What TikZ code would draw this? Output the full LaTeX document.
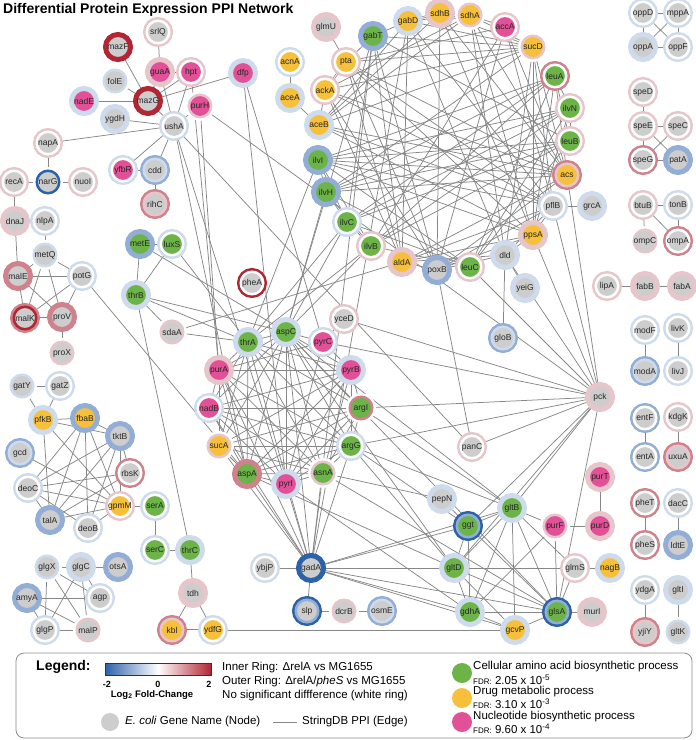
\documentclass[tikz,border=0pt]{standalone}
\usepackage{fontspec}
\setmainfont{Liberation Sans}
\usepackage{tikz}
\usetikzlibrary{backgrounds}

\definecolor{rD}{RGB}{178,38,52}
\definecolor{rM}{RGB}{208,130,140}
\definecolor{rL}{RGB}{231,198,203}
\definecolor{bL}{RGB}{206,219,236}
\definecolor{bM}{RGB}{146,174,214}
\definecolor{bD}{RGB}{44,98,168}
\definecolor{W}{RGB}{255,255,255}
\definecolor{cG}{RGB}{205,205,205}
\definecolor{cGr}{RGB}{108,180,72}
\definecolor{cO}{RGB}{247,192,58}
\definecolor{cM}{RGB}{226,80,152}
\definecolor{ppigray}{RGB}{135,135,135}

\begin{document}
\begin{tikzpicture}[x=1pt, y=-1pt,
    gene/.style n args={3}{circle, inner sep=-8pt, minimum size=22.5pt, fill=#3, draw=#2, line width=2.5pt,
        preaction={draw=#1, line width=7.5pt}, text=black!85, font=\fontsize{8.5}{9}\selectfont},
    ppi/.style={draw=ppigray, line width=0.75pt},
    keytext/.style={anchor=west, inner sep=0pt, font=\fontsize{11.5}{12}\selectfont}]

    \useasboundingbox (0,0) rectangle (696,740);

    \node[anchor=west, inner sep=0pt, font=\bfseries\fontsize{14}{15}\selectfont] (title) at (3,10) {Differential Protein Expression PPI Network};

    % left top
    \node[gene={rL}{W}{cG}] (srlQ) at (158,32) {srlQ};
    \node[gene={rD}{rD}{cG}] (mazF) at (118,47) {mazF};
    \node[gene={rL}{rL}{cM}] (guaA) at (160,72) {guaA};
    \node[gene={rL}{W}{cM}] (hpt) at (191,72) {hpt};
    \node[gene={W}{bL}{cG}] (folE) at (115,81) {folE};
    \node[gene={bL}{bL}{cM}] (nadE) at (84,101) {nadE};
    \node[gene={rD}{rD}{cG}] (mazG) at (148,101) {mazG};
    \node[gene={W}{rL}{cM}] (purH) at (200,106) {purH};
    \node[gene={bL}{bL}{cG}] (ygdH) at (115,119) {ygdH};
    \node[gene={bL}{W}{cG}] (ushA) at (174,126) {ushA};
    \node[gene={bL}{bL}{cM}] (dfp) at (243,73) {dfp};
    \node[gene={rL}{W}{cG}] (napA) at (48,143) {napA};
    \node[gene={rL}{W}{cG}] (recA) at (14,182) {recA};
    \node[gene={W}{bD}{cG}] (narG) at (48,182) {narG};
    \node[gene={rL}{W}{cG}] (nuoI) at (83,182) {nuoI};
    \node[gene={bL}{W}{cM}] (yfbR) at (123,170) {yfbR};
    \node[gene={bM}{bL}{cG}] (cdd) at (155,170) {cdd};
    \node[gene={rM}{rL}{cG}] (rihC) at (155,204) {rihC};

    \node[gene={rL}{rL}{cG}] (dnaJ) at (15,221) {dnaJ};
    \node[gene={bL}{W}{cG}] (nlpA) at (45,221) {nlpA};
    \node[gene={W}{bL}{cG}] (metQ) at (45,255) {metQ};
    \node[gene={rM}{rM}{cG}] (malE) at (18,276) {malE};
    \node[gene={bL}{W}{cG}] (potG) at (82,276) {potG};
    \node[gene={rM}{rD}{cG}] (malK) at (25,318) {malK};
    \node[gene={rM}{rM}{cG}] (proV) at (62,317) {proV};
    \node[gene={W}{rL}{cG}] (proX) at (62,353) {proX};

    \node[gene={W}{bL}{cG}] (gatY) at (22,386) {gatY};
    \node[gene={bL}{W}{cG}] (gatZ) at (60,386) {gatZ};
    \node[gene={bL}{bL}{cO}] (pfkB) at (43,420) {pfkB};
    \node[gene={bM}{bM}{cO}] (fbaB) at (85,418) {fbaB};
    \node[gene={bM}{bM}{cG}] (tktB) at (120,436) {tktB};
    \node[gene={bM}{bL}{cG}] (gcd) at (20,453) {gcd};
    \node[gene={rM}{W}{cG}] (rbsK) at (130,473) {rbsK};
    \node[gene={bL}{W}{cG}] (deoC) at (28,488) {deoC};
    \node[gene={rL}{W}{cO}] (gpmM) at (120,506) {gpmM};
    \node[gene={bL}{W}{cGr}] (serA) at (155,506) {serA};
    \node[gene={bM}{bM}{cG}] (talA) at (50,520) {talA};
    \node[gene={bL}{W}{cG}] (deoB) at (88,528) {deoB};
    \node[gene={bL}{W}{cGr}] (serC) at (155,550) {serC};
    \node[gene={bL}{bL}{cGr}] (thrC) at (190,550) {thrC};
    \node[gene={W}{bL}{cG}] (glgX) at (47,567) {glgX};
    \node[gene={bL}{bL}{cG}] (glgC) at (81,567) {glgC};
    \node[gene={bM}{bM}{cG}] (otsA) at (118,567) {otsA};
    \node[gene={bM}{bM}{cG}] (amyA) at (27,598) {amyA};
    \node[gene={bL}{W}{cG}] (agp) at (100,598) {agp};
    \node[gene={bL}{W}{cG}] (glgP) at (45,630) {glgP};
    \node[gene={W}{rL}{cG}] (malP) at (88,630) {malP};
    \node[gene={rL}{rL}{cG}] (tdh) at (193,593) {tdh};
    \node[gene={rM}{rL}{cO}] (kbl) at (172,630) {kbl};
    \node[gene={bL}{W}{cO}] (ydfG) at (213,630) {ydfG};

    \node[gene={bM}{bM}{cGr}] (metE) at (140,244) {metE};
    \node[gene={bL}{W}{cGr}] (luxS) at (172,244) {luxS};
    \node[gene={bL}{bL}{cGr}] (thrB) at (136,295) {thrB};
    \node[gene={W}{rL}{cG}] (sdaA) at (172,332) {sdaA};
    \node[gene={rD}{W}{cG}] (pheA) at (252,283) {pheA};

    % ring of twelve
    \node[gene={bL}{bL}{cGr}] (aspC) at (286,332) {aspC};
    \node[gene={bL}{W}{cM}] (pyrC) at (323,342) {pyrC};
    \node[gene={bL}{bL}{cM}] (pyrB) at (351,370) {pyrB};
    \node[gene={W}{rM}{cGr}] (argI) at (361,408) {argI};
    \node[gene={bL}{W}{cGr}] (argG) at (351,446) {argG};
    \node[gene={W}{rL}{cGr}] (asnA) at (323,473) {asnA};
    \node[gene={bL}{bL}{cM}] (pyrI) at (286,484) {pyrI};
    \node[gene={rM}{rM}{cGr}] (aspA) at (247,474) {aspA};
    \node[gene={W}{rL}{cO}] (sucA) at (219,446) {sucA};
    \node[gene={bL}{W}{cM}] (nadB) at (209,408) {nadB};
    \node[gene={rL}{rL}{cM}] (purA) at (219,370) {purA};
    \node[gene={bL}{bL}{cGr}] (thrA) at (248,342) {thrA};
    \node[gene={rL}{W}{cG}] (yceD) at (344,319) {yceD};
    \node[gene={rL}{W}{cG}] (panC) at (472,447) {panC};
    \node[gene={bL}{bL}{cG}] (pepN) at (442,499) {pepN};

    % big ring
    \node[gene={rL}{rL}{cG}] (glmU) at (326,27) {glmU};
    \node[gene={bL}{W}{cO}] (acnA) at (290,62) {acnA};
    \node[gene={bL}{bL}{cO}] (aceA) at (290,98) {aceA};
    \node[gene={rL}{W}{cO}] (pta) at (346,62) {pta};
    \node[gene={bM}{bM}{cGr}] (gabT) at (373,36) {gabT};
    \node[gene={bL}{bL}{cO}] (gabD) at (408,21) {gabD};
    \node[gene={rL}{rL}{cO}] (sdhB) at (440,13) {sdhB};
    \node[gene={W}{rL}{cO}] (sdhA) at (470,15) {sdhA};
    \node[gene={rL}{W}{cM}] (accA) at (505,27) {accA};
    \node[gene={W}{rL}{cO}] (sucD) at (533,47) {sucD};
    \node[gene={rM}{W}{cGr}] (leuA) at (555,76) {leuA};
    \node[gene={rL}{W}{cGr}] (ilvN) at (570,108) {ilvN};
    \node[gene={rL}{W}{cGr}] (leuB) at (570,141) {leuB};
    \node[gene={rM}{rL}{cO}] (acs) at (567,175) {acs};
    \node[gene={bL}{W}{cG}] (pflB) at (553,206) {pflB};
    \node[gene={rL}{rL}{cO}] (ppsA) at (533,235) {ppsA};
    \node[gene={bL}{bL}{cG}] (dld) at (505,255) {dld};
    \node[gene={rL}{W}{cGr}] (leuC) at (470,267) {leuC};
    \node[gene={bM}{bM}{cG}] (poxB) at (437,270) {poxB};
    \node[gene={rL}{rL}{cO}] (aldA) at (402,262) {aldA};
    \node[gene={rL}{W}{cGr}] (ilvB) at (371,246) {ilvB};
    \node[gene={bL}{W}{cGr}] (ilvC) at (347,222) {ilvC};
    \node[gene={bM}{bM}{cGr}] (ilvH) at (326,192) {ilvH};
    \node[gene={bM}{bM}{cGr}] (ilvI) at (318,160) {ilvI};
    \node[gene={bL}{bL}{cO}] (aceB) at (319,125) {aceB};
    \node[gene={rL}{W}{cO}] (ackA) at (325,90) {ackA};
    \node[gene={bL}{bL}{cG}] (grcA) at (592,206) {grcA};
    \node[gene={bL}{bL}{cG}] (yeiG) at (525,288) {yeiG};
    \node[gene={bM}{bL}{cG}] (gloB) at (503,338) {gloB};
    \node[gene={rL}{rL}{cG}] (pck) at (600,397) {pck};

    % right column
    \node[gene={bL}{W}{cG}] (oppD) at (643,13) {oppD};
    \node[gene={bL}{W}{cG}] (mppA) at (678,13) {mppA};
    \node[gene={bL}{bL}{cG}] (oppA) at (643,47) {oppA};
    \node[gene={bL}{W}{cG}] (oppF) at (678,47) {oppF};
    \node[gene={rL}{W}{cG}] (speD) at (643,92) {speD};
    \node[gene={rL}{W}{cG}] (speE) at (643,126) {speE};
    \node[gene={rL}{W}{cG}] (speC) at (678,126) {speC};
    \node[gene={rM}{W}{cG}] (speG) at (643,160) {speG};
    \node[gene={bM}{bM}{cG}] (patA) at (678,160) {patA};
    \node[gene={rL}{W}{cG}] (btuB) at (643,205) {btuB};
    \node[gene={bL}{W}{cG}] (tonB) at (678,205) {tonB};
    \node[gene={W}{rL}{cG}] (ompC) at (645,241) {ompC};
    \node[gene={rM}{W}{cG}] (ompA) at (678,241) {ompA};
    \node[gene={rL}{W}{cG}] (lipA) at (607,286) {lipA};
    \node[gene={rL}{rL}{cG}] (fabB) at (645,286) {fabB};
    \node[gene={rL}{rL}{cG}] (fabA) at (682,286) {fabA};
    \node[gene={bL}{W}{cG}] (modF) at (645,330) {modF};
    \node[gene={bL}{W}{cG}] (livK) at (678,328) {livK};
    \node[gene={bM}{bL}{cG}] (modA) at (645,371) {modA};
    \node[gene={bL}{W}{cG}] (livJ) at (678,371) {livJ};
    \node[gene={bM}{W}{cG}] (entF) at (645,418) {entF};
    \node[gene={rL}{W}{cG}] (kdgK) at (678,417) {kdgK};
    \node[gene={bM}{W}{cG}] (entA) at (645,457) {entA};
    \node[gene={rM}{rL}{cG}] (uxuA) at (678,457) {uxuA};
    \node[gene={rM}{W}{cG}] (pheT) at (645,503) {pheT};
    \node[gene={bL}{W}{cG}] (dacC) at (678,503) {dacC};
    \node[gene={rM}{W}{cG}] (pheS) at (645,545) {pheS};
    \node[gene={bM}{bM}{cG}] (ldtE) at (678,545) {ldtE};
    \node[gene={bL}{W}{cG}] (ydgA) at (645,590) {ydgA};
    \node[gene={bL}{bL}{cG}] (gltI) at (678,590) {gltI};
    \node[gene={rM}{rL}{cG}] (yjiY) at (645,632) {yjiY};
    \node[gene={W}{bL}{cG}] (gltK) at (678,632) {gltK};

    % bottom middle
    \node[gene={rL}{rL}{cM}] (purT) at (600,477) {purT};
    \node[gene={rL}{rL}{cM}] (purD) at (600,526) {purD};
    \node[gene={W}{rL}{cM}] (purF) at (555,526) {purF};
    \node[gene={bL}{bL}{cGr}] (gltB) at (512,508) {gltB};
    \node[gene={bD}{bM}{cGr}] (ggt) at (468,526) {ggt};
    \node[gene={rL}{W}{cG}] (glmS) at (575,568) {glmS};
    \node[gene={bL}{bL}{cO}] (nagB) at (610,568) {nagB};
    \node[gene={bL}{bL}{cGr}] (gltD) at (454,568) {gltD};
    \node[gene={bL}{bL}{cGr}] (gdhA) at (470,612) {gdhA};
    \node[gene={bD}{bM}{cGr}] (glsA) at (557,612) {glsA};
    \node[gene={rL}{rL}{cG}] (murI) at (592,612) {murI};
    \node[gene={bL}{bL}{cO}] (gcvP) at (515,630) {gcvP};
    \node[gene={bD}{bD}{cG}] (gadA) at (311,568) {gadA};
    \node[gene={bL}{W}{cG}] (ybjP) at (265,568) {ybjP};
    \node[gene={bD}{bM}{cG}] (slp) at (307,611) {slp};
    \node[gene={W}{rL}{cG}] (dcrB) at (344,611) {dcrB};
    \node[gene={bM}{bL}{cG}] (osmE) at (382,611) {osmE};

    \begin{scope}[on background layer]
    \draw[ppi] (srlQ) to (guaA);
    \draw[ppi] (mazF) to (mazG);
    \draw[ppi] (folE) to (mazG);
    \draw[ppi] (nadE) to (mazG);
    \draw[ppi] (guaA) to (hpt);
    \draw[ppi] (guaA) to (ushA);
    \draw[ppi] (guaA) to (mazG);
    \draw[ppi] (hpt) to (mazG);
    \draw[ppi] (hpt) to (ushA);
    \draw[ppi] (mazG) to (ushA);
    \draw[ppi] (mazG) to (dfp);
    \draw[ppi] (ygdH) to (ushA);
    \draw[ppi] (purH) to (ushA);
    \draw[ppi] (napA) to (ushA);
    \draw[ppi] (napA) to (narG);
    \draw[ppi] (recA) to (narG);
    \draw[ppi] (narG) to (nuoI);
    \draw[ppi] (recA) to (dnaJ);
    \draw[ppi] (yfbR) to (cdd);
    \draw[ppi] (yfbR) to (ushA);
    \draw[ppi] (cdd) to (ushA);
    \draw[ppi] (cdd) to (rihC);
    \draw[ppi] (ushA) to (panC);
    \draw[ppi] (ushA) to (pyrI);
    \draw[ppi] (ushA) to (aspA);
    \draw[ppi] (hpt) to (purA);
    \draw[ppi] (purH) to (purA);
    \draw[ppi] (dfp) to (pyrI);
    \draw[ppi] (dfp) to (pyrC);
    \draw[ppi] (purH) to (pck);

    \draw[ppi] (dnaJ) to (malE);
    \draw[ppi] (nlpA) to (metQ);
    \draw[ppi] (metQ) to (malE);
    \draw[ppi] (metQ) to (potG);
    \draw[ppi] (metQ) to (malK);
    \draw[ppi] (metQ) to (proV);
    \draw[ppi] (malE) to (potG);
    \draw[ppi] (malE) to (malK);
    \draw[ppi] (malE) to (proV);
    \draw[ppi] (malK) to (proV);
    \draw[ppi] (malK) to (potG);
    \draw[ppi] (proV) to (potG);
    \draw[ppi] (proV) to (proX);
    \draw[ppi] (potG) to (aspA);

    \draw[ppi] (metE) to (luxS);
    \draw[ppi] (metE) to (thrB);
    \draw[ppi] (luxS) to (thrB);
    \draw[ppi] (metE) to (aspC);
    \draw[ppi] (luxS) to (thrA);
    \draw[ppi] (thrB) to (aspC);
    \draw[ppi] (thrB) to (thrA);
    \draw[ppi] (thrB) to (thrC);
    \draw[ppi] (thrB) to (sdaA);
    \draw[ppi] (sdaA) to (thrA);
    \draw[ppi] (sdaA) to (aldA);

    \draw[ppi] (gatY) to (gatZ);
    \draw[ppi] (gatY) to (pfkB);
    \draw[ppi] (gatZ) to (pfkB);
    \draw[ppi] (pfkB) to (fbaB);
    \draw[ppi] (pfkB) to (tktB);
    \draw[ppi] (pfkB) to (talA);
    \draw[ppi] (pfkB) to (gpmM);
    \draw[ppi] (fbaB) to (tktB);
    \draw[ppi] (fbaB) to (talA);
    \draw[ppi] (fbaB) to (deoC);
    \draw[ppi] (fbaB) to (gpmM);
    \draw[ppi] (fbaB) to (deoB);
    \draw[ppi] (tktB) to (talA);
    \draw[ppi] (tktB) to (gpmM);
    \draw[ppi] (tktB) to (deoB);
    \draw[ppi] (tktB) to (rbsK);
    \draw[ppi] (tktB) to (deoC);
    \draw[ppi] (gcd) to (gpmM);
    \draw[ppi] (deoC) to (rbsK);
    \draw[ppi] (deoC) to (gpmM);
    \draw[ppi] (deoC) to (talA);
    \draw[ppi] (deoC) to (deoB);
    \draw[ppi] (talA) to (gpmM);
    \draw[ppi] (deoB) to (gpmM);
    \draw[ppi] (rbsK) to (talA);
    \draw[ppi] (gpmM) to (serA);
    \draw[ppi] (serA) to (serC);
    \draw[ppi] (serC) to (thrC);
    \draw[ppi] (thrC) to (tdh);
    \draw[ppi] (tdh) to (kbl);
    \draw[ppi] (tdh) to (ydfG);
    \draw[ppi, double distance=0.8pt] (kbl) to (ydfG);
    \draw[ppi] (ydfG) to (gcvP);

    \draw[ppi] (glgX) to (glgC);
    \draw[ppi] (glgC) to (otsA);
    \draw[ppi] (glgX) to (glgP);
    \draw[ppi] (glgX) to (malP);
    \draw[ppi] (glgX) to (agp);
    \draw[ppi] (glgC) to (agp);
    \draw[ppi] (glgC) to (glgP);
    \draw[ppi] (glgC) to (malP);
    \draw[ppi] (amyA) to (agp);
    \draw[ppi] (amyA) to (glgP);
    \draw[ppi] (amyA) to (malP);
    \draw[ppi] (glgP) to (malP);

    \draw[ppi] (oppD) to (mppA);
    \draw[ppi] (oppD) to (oppA);
    \draw[ppi] (oppD) to (oppF);
    \draw[ppi] (mppA) to (oppA);
    \draw[ppi] (mppA) to (oppF);
    \draw[ppi] (oppA) to (oppF);
    \draw[ppi] (speD) to (speE);
    \draw[ppi] (speE) to (speC);
    \draw[ppi] (speE) to (speG);
    \draw[ppi] (speE) to (patA);
    \draw[ppi] (speC) to (speG);
    \draw[ppi] (speG) to (patA);
    \draw[ppi] (btuB) to (tonB);
    \draw[ppi] (btuB) to (ompC);
    \draw[ppi] (btuB) to (ompA);
    \draw[ppi] (tonB) to (ompA);
    \draw[ppi] (lipA) to (fabB);
    \draw[ppi] (fabB) to (fabA);
    \draw[ppi] (modF) to (modA);
    \draw[ppi] (livK) to (livJ);
    \draw[ppi] (entF) to (entA);
    \draw[ppi] (kdgK) to (uxuA);
    \draw[ppi] (pheT) to (pheS);
    \draw[ppi] (dacC) to (ldtE);
    \draw[ppi] (ydgA) to (yjiY);
    \draw[ppi] (gltI) to (gltK);

    % ring of twelve
    \draw[ppi] (aspC) to (pyrC);
    \draw[ppi] (aspC) to (pyrB);
    \draw[ppi] (aspC) to (argI);
    \draw[ppi] (aspC) to (argG);
    \draw[ppi] (aspC) to (asnA);
    \draw[ppi] (aspC) to (pyrI);
    \draw[ppi] (aspC) to (aspA);
    \draw[ppi] (aspC) to (sucA);
    \draw[ppi] (aspC) to (nadB);
    \draw[ppi] (aspC) to (purA);
    \draw[ppi] (aspC) to (thrA);
    \draw[ppi] (thrA) to (purA);
    \draw[ppi] (thrA) to (nadB);
    \draw[ppi] (thrA) to (aspA);
    \draw[ppi] (thrA) to (asnA);
    \draw[ppi] (thrA) to (argG);
    \draw[ppi] (thrA) to (pyrB);
    \draw[ppi] (thrA) to (argI);
    \draw[ppi] (thrA) to (sucA);
    \draw[ppi] (purA) to (pyrB);
    \draw[ppi] (purA) to (nadB);
    \draw[ppi] (purA) to (pyrI);
    \draw[ppi] (purA) to (aspA);
    \draw[ppi] (purA) to (argG);
    \draw[ppi] (purA) to (asnA);
    \draw[ppi] (purA) to (sucA);
    \draw[ppi] (purA) to (pyrC);
    \draw[ppi] (nadB) to (argI);
    \draw[ppi] (nadB) to (aspA);
    \draw[ppi] (nadB) to (pyrI);
    \draw[ppi] (nadB) to (asnA);
    \draw[ppi] (nadB) to (argG);
    \draw[ppi] (nadB) to (pyrB);
    \draw[ppi] (sucA) to (argG);
    \draw[ppi] (sucA) to (aspA);
    \draw[ppi] (sucA) to (asnA);
    \draw[ppi] (sucA) to (pyrB);
    \draw[ppi] (sucA) to (argI);
    \draw[ppi] (aspA) to (pyrI);
    \draw[ppi] (aspA) to (asnA);
    \draw[ppi] (aspA) to (argG);
    \draw[ppi] (aspA) to (argI);
    \draw[ppi] (aspA) to (pyrB);
    \draw[ppi] (pyrI) to (pyrB);
    \draw[ppi] (pyrI) to (pyrC);
    \draw[ppi] (pyrI) to (argI);
    \draw[ppi] (pyrI) to (asnA);
    \draw[ppi] (pyrI) to (argG);
    \draw[ppi] (asnA) to (argG);
    \draw[ppi] (asnA) to (argI);
    \draw[ppi] (asnA) to (pyrB);
    \draw[ppi] (argG) to (argI);
    \draw[ppi] (argG) to (pyrB);
    \draw[ppi] (argI) to (pyrB);
    \draw[ppi] (pyrB) to (pyrC);
    \draw[ppi] (yceD) to (pyrC);

    \draw[ppi] (gadA) to (aspA);
    \draw[ppi] (gadA) to (pyrI);
    \draw[ppi] (gadA) to (asnA);
    \draw[ppi] (gadA) to (argG);
    \draw[ppi] (gadA) to (sucA);
    \draw[ppi] (gadA) to (aspC);
    \draw[ppi] (gadA) to (thrA);
    \draw[ppi] (gadA) to (purA);
    \draw[ppi] (gadA) to (nadB);
    \draw[ppi] (gadA) to (gltD);
    \draw[ppi] (gadA) to (ggt);
    \draw[ppi] (gadA) to (gltB);
    \draw[ppi] (gadA) to (glsA);
    \draw[ppi] (gadA) to (gdhA);
    \draw[ppi] (gadA) to (gcvP);
    \draw[ppi] (gadA) to (ybjP);
    \draw[ppi] (gadA) to (slp);
    \draw[ppi] (slp) to (dcrB);
    \draw[ppi] (dcrB) to (osmE);

    \draw[ppi] (aspC) to (gltD);
    \draw[ppi] (aspC) to (gltB);
    \draw[ppi] (aspC) to (glsA);
    \draw[ppi] (argG) to (gltB);
    \draw[ppi] (argG) to (ggt);
    \draw[ppi] (argG) to (gltD);
    \draw[ppi] (asnA) to (glsA);
    \draw[ppi] (aspA) to (gltD);
    \draw[ppi] (pyrI) to (gdhA);
    \draw[ppi] (asnA) to (pepN);
    \draw[ppi] (pepN) to (ggt);
    \draw[ppi] (argI) to (gltB);
    \draw[ppi] (argG) to (pck);
    \draw[ppi] (yceD) to (pck);
    \draw[ppi] (pyrC) to (pck);
    \draw[ppi] (argI) to (pck);
    \draw[ppi] (panC) to (pck);
    \draw[ppi] (poxB) to (panC);

    \draw[ppi] (purT) to (purD);
    \draw[ppi] (purF) to (purD);
    \draw[ppi] (purF) to (gltB);
    \draw[ppi] (purF) to (glsA);
    \draw[ppi] (purF) to (gdhA);
    \draw[ppi] (glmS) to (nagB);
    \draw[ppi] (glmS) to (gltD);
    \draw[ppi] (glmS) to (glsA);
    \draw[ppi] (glmS) to (gltB);
    \draw[ppi] (glsA) to (murI);
    \draw[ppi] (glsA) to (gcvP);
    \draw[ppi] (glsA) to (gdhA);
    \draw[ppi] (glsA) to (gltB);
    \draw[ppi] (glsA) to (ggt);
    \draw[ppi] (glsA) to (gltD);
    \draw[ppi] (gltB) to (ggt);
    \draw[ppi] (gltB) to (gltD);
    \draw[ppi] (gltB) to (gdhA);
    \draw[ppi] (gltB) to (gcvP);
    \draw[ppi] (ggt) to (gltD);
    \draw[ppi] (ggt) to (gdhA);
    \draw[ppi] (gltD) to (gdhA);
    \draw[ppi] (gdhA) to (gcvP);
    \draw[ppi] (gltD) to (gcvP);
    \draw[ppi] (pck) to (gltB);
    \draw[ppi] (pck) to (ggt);
    \draw[ppi] (pck) to (gltD);
    \draw[ppi] (pck) to (glsA);

    % big ring
    \draw[ppi] (ilvI) to (ilvH);
    \draw[ppi] (ilvI) to (ilvN);
    \draw[ppi] (ilvI) to (ilvB);
    \draw[ppi] (ilvI) to (ilvC);
    \draw[ppi] (ilvI) to (leuA);
    \draw[ppi] (ilvI) to (leuB);
    \draw[ppi] (ilvI) to (leuC);
    \draw[ppi] (ilvH) to (ilvN);
    \draw[ppi] (ilvH) to (ilvB);
    \draw[ppi] (ilvH) to (ilvC);
    \draw[ppi] (ilvH) to (leuA);
    \draw[ppi] (ilvH) to (leuB);
    \draw[ppi] (ilvH) to (leuC);
    \draw[ppi] (ilvN) to (ilvB);
    \draw[ppi] (ilvN) to (ilvC);
    \draw[ppi] (ilvN) to (leuA);
    \draw[ppi] (ilvN) to (leuB);
    \draw[ppi] (ilvN) to (leuC);
    \draw[ppi] (ilvB) to (ilvC);
    \draw[ppi] (ilvB) to (leuA);
    \draw[ppi] (ilvB) to (leuB);
    \draw[ppi] (ilvB) to (leuC);
    \draw[ppi] (ilvC) to (leuA);
    \draw[ppi] (ilvC) to (leuB);
    \draw[ppi] (ilvC) to (leuC);
    \draw[ppi] (leuA) to (leuB);
    \draw[ppi] (leuA) to (leuC);
    \draw[ppi] (leuB) to (leuC);

    \draw[ppi] (glmU) to (pta);
    \draw[ppi] (acnA) to (aceA);
    \draw[ppi] (aceA) to (aceB);
    \draw[ppi] (ackA) to (aceB);
    \draw[ppi, double distance=0.8pt] (pta) to (ackA);
    \draw[ppi] (pta) to (gabT);
    \draw[ppi] (pta) to (acs);
    \draw[ppi] (pta) to (pflB);
    \draw[ppi] (pta) to (poxB);
    \draw[ppi] (pta) to (sucD);
    \draw[ppi] (pta) to (ppsA);
    \draw[ppi] (pta) to (aldA);
    \draw[ppi] (pta) to (accA);
    \draw[ppi] (ackA) to (acs);
    \draw[ppi] (ackA) to (pflB);
    \draw[ppi] (ackA) to (poxB);
    \draw[ppi] (ackA) to (sucD);
    \draw[ppi] (ackA) to (aldA);
    \draw[ppi] (ackA) to (sdhA);
    \draw[ppi] (acs) to (poxB);
    \draw[ppi] (acs) to (aldA);
    \draw[ppi] (acs) to (accA);
    \draw[ppi] (acs) to (sucD);
    \draw[ppi] (acs) to (sdhA);
    \draw[ppi] (acs) to (aceB);
    \draw[ppi] (acs) to (leuA);
    \draw[ppi] (aceB) to (sdhA);
    \draw[ppi] (aceB) to (sdhB);
    \draw[ppi] (aceB) to (sucD);
    \draw[ppi] (aceB) to (gabD);
    \draw[ppi] (aceB) to (ppsA);
    \draw[ppi] (aceB) to (pflB);
    \draw[ppi] (gabT) to (gabD);
    \draw[ppi] (gabT) to (sucD);
    \draw[ppi] (gabT) to (aldA);
    \draw[ppi] (gabT) to (ilvC);
    \draw[ppi] (gabT) to (leuB);
    \draw[ppi] (gabT) to (poxB);
    \draw[ppi, double distance=0.8pt] (gabD) to (sdhB);
    \draw[ppi] (gabD) to (sdhA);
    \draw[ppi] (gabD) to (sucD);
    \draw[ppi] (gabD) to (aldA);
    \draw[ppi] (gabD) to (pflB);
    \draw[ppi] (gabD) to (dld);
    \draw[ppi] (sdhB) to (sdhA);
    \draw[ppi] (sdhB) to (sucD);
    \draw[ppi] (sdhB) to (ppsA);
    \draw[ppi] (sdhB) to (acs);
    \draw[ppi] (sdhB) to (poxB);
    \draw[ppi] (sdhA) to (sucD);
    \draw[ppi] (sdhA) to (accA);
    \draw[ppi] (sdhA) to (ppsA);
    \draw[ppi] (sdhA) to (dld);
    \draw[ppi] (accA) to (pflB);
    \draw[ppi] (accA) to (ilvB);
    \draw[ppi] (accA) to (poxB);
    \draw[ppi] (sucD) to (ppsA);
    \draw[ppi] (sucD) to (pflB);
    \draw[ppi] (sucD) to (ilvH);
    \draw[ppi] (sucD) to (dld);
    \draw[ppi] (pflB) to (poxB);
    \draw[ppi] (pflB) to (ppsA);
    \draw[ppi] (pflB) to (dld);
    \draw[ppi] (pflB) to (aldA);
    \draw[ppi] (pflB) to (grcA);
    \draw[ppi] (ppsA) to (poxB);
    \draw[ppi] (ppsA) to (dld);
    \draw[ppi] (ppsA) to (aldA);
    \draw[ppi] (ppsA) to (ilvI);
    \draw[ppi] (dld) to (poxB);
    \draw[ppi] (dld) to (aldA);
    \draw[ppi] (dld) to (gloB);
    \draw[ppi] (dld) to (yeiG);
    \draw[ppi] (poxB) to (aldA);
    \draw[ppi] (ilvI) to (pflB);
    \draw[ppi] (ilvH) to (acs);
    \draw[ppi] (ilvI) to (acs);
    \draw[ppi] (leuA) to (ppsA);
    \draw[ppi] (ilvN) to (ppsA);

    \draw[ppi] (ilvC) to (aspC);
    \draw[ppi] (ilvC) to (thrA);
    \draw[ppi] (ilvB) to (thrA);
    \draw[ppi] (ilvH) to (aspC);
    \draw[ppi] (ilvI) to (thrA);
    \draw[ppi] (ilvB) to (aspC);
    \draw[ppi] (gabT) to (aspC);
    \draw[ppi] (gabT) to (gadA);
    \draw[ppi] (gabD) to (gadA);
    \draw[ppi] (ppsA) to (pck);
    \draw[ppi] (pflB) to (pck);
    \draw[ppi] (acs) to (pck);
    \draw[ppi] (dld) to (pck);
    \draw[ppi] (leuC) to (pck);
    \end{scope}

    % legend
    \draw[rounded corners=8pt, draw=black!45, line width=0.8pt] (16,653) rectangle (692,738);
    \node[anchor=west, inner sep=0pt, font=\bfseries\fontsize{14}{15}\selectfont] (legendtitle) at (36,667) {Legend:};
    \shade[left color=bD, right color=white] (105,663) rectangle (158,675);
    \shade[left color=white, right color=rD] (158,663) rectangle (211,675);
    \draw[black!80, line width=0.8pt] (105,663) rectangle (211,675);
    \node[inner sep=0pt, font=\bfseries\fontsize{9}{10}\selectfont] (cbarlo) at (107,684) {-2};
    \node[inner sep=0pt, font=\bfseries\fontsize{9}{10}\selectfont] (cbarmid) at (158,684) {0};
    \node[inner sep=0pt, font=\bfseries\fontsize{9}{10}\selectfont] (cbarhi) at (209,684) {2};
    \node[inner sep=0pt, font=\bfseries\fontsize{9.5}{10}\selectfont] (cbarlabel) at (152,695) {Log\textsubscript{2} Fold-Change};
    \node[keytext] (innerkey) at (222,668) {Inner Ring: ΔrelA vs MG1655};
    \node[keytext] (outerkey) at (222,682) {Outer Ring: ΔrelA/\textit{pheS} vs MG1655};
    \node[keytext] (whitekey) at (222,696) {No significant diffference (white ring)};
    \node[circle, fill=cG, minimum size=18pt, inner sep=0pt] (keynode) at (110,722) {};
    \node[keytext] (keynodetext) at (125,722) {\textit{E. coli} Gene Name (Node)};
    \coordinate (keyedgeA) at (273,722);
    \coordinate (keyedgeB) at (297,722);
    \draw[ppi] (keyedgeA) -- (keyedgeB);
    \node[keytext] (keyedgetext) at (302,722) {StringDB PPI (Edge)};

    \node[circle, fill=cGr, minimum size=20pt, inner sep=0pt] (keygreen) at (462,673) {};
    \node[keytext] (greentext) at (473,667) {Cellular amino acid biosynthetic process};
    \node[keytext] (greenfdr) at (473,680) {{\fontsize{8}{9}\selectfont FDR:} 2.05 x 10\textsuperscript{-5}};
    \node[circle, fill=cO, minimum size=20pt, inner sep=0pt] (keyorange) at (462,698) {};
    \node[keytext] (orangetext) at (473,692) {Drug metabolic process};
    \node[keytext] (orangefdr) at (473,704) {{\fontsize{8}{9}\selectfont FDR:} 3.10 x 10\textsuperscript{-3}};
    \node[circle, fill=cM, minimum size=20pt, inner sep=0pt] (keymagenta) at (462,722) {};
    \node[keytext] (magentatext) at (473,717) {Nucleotide biosynthetic process};
    \node[keytext] (magentafdr) at (473,729) {{\fontsize{8}{9}\selectfont FDR:} 9.60 x 10\textsuperscript{-4}};

\end{tikzpicture}
\end{document}
